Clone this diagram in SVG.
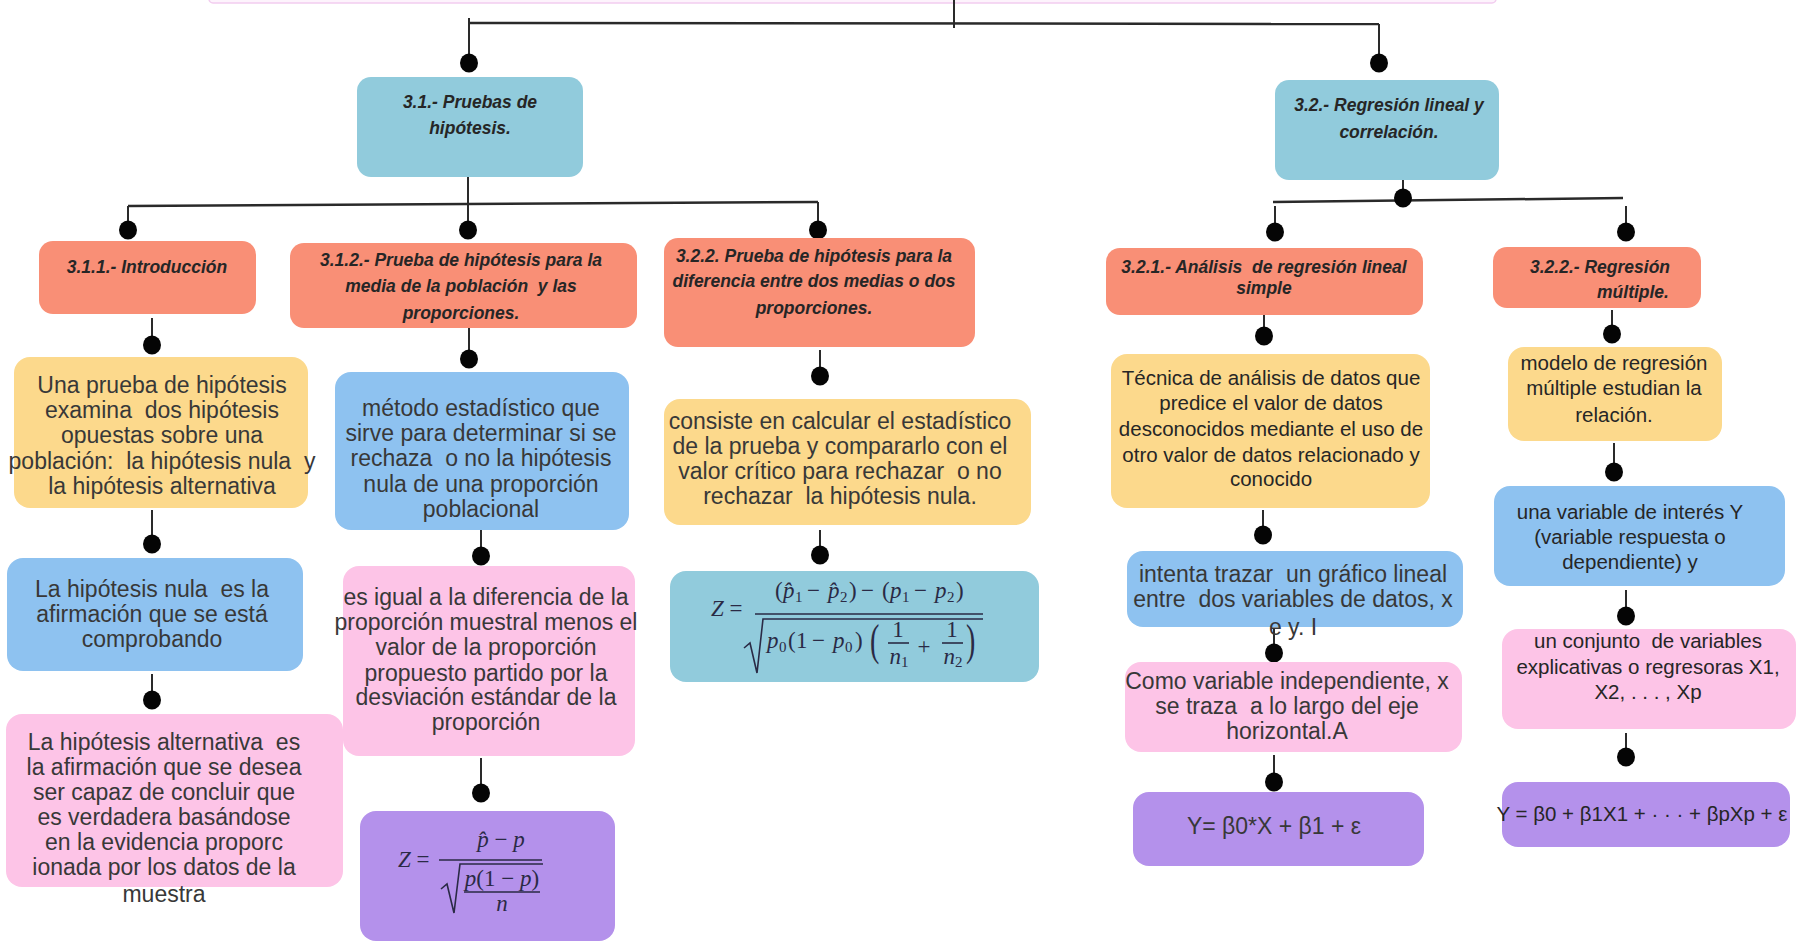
<svg xmlns="http://www.w3.org/2000/svg" width="1806" height="948" viewBox="0 0 1806 948">
<style>
  .bg { fill: #ffffff; }
  .teal { fill: #91CBDC; }
  .sal { fill: #F98F76; }
  .yel { fill: #FCD98C; }
  .blu { fill: #8EC2F0; }
  .pnk { fill: #FDC4E7; }
  .pur { fill: #B491EB; }
  .conn line, .conn polyline { stroke: #2a2a2a; stroke-width: 2; fill: none; }
  .conn .h { stroke-width: 2.5; }
  .conn ellipse { fill: #050505; }
  text { white-space: pre; }
  .hd { font-family: "Liberation Sans", Arial, sans-serif; font-weight: bold; font-style: italic; font-size: 17.5px; fill: #262626; text-anchor: middle; }
  .ar { font-family: "Liberation Sans", Arial, sans-serif; font-size: 23px; fill: #383838; text-anchor: middle; }
  .cb { font-family: "Liberation Sans", Arial, sans-serif; font-size: 20.5px; fill: #262626; text-anchor: middle; }
  .fm { font-family: "Liberation Serif", "Times New Roman", serif; font-size: 23px; fill: #2a2a45; }
  .fmc { text-anchor: middle; }
  .it { font-style: italic; }
  .sub { font-size: 15px; }
  .big { font-family: "Liberation Serif", serif; font-size: 28px; fill: #2a2a45; }
  .rule { stroke: #2a2a45; stroke-width: 1.6; fill: none; }
</style>
<rect class="bg" x="0" y="0" width="1806" height="948"/>

<g id="root">
  <rect x="209" y="-12" width="1287" height="15" rx="4" fill="#FDF3FC" stroke="#F2CDEF" stroke-width="1.5"/>
</g>

<g id="connectors" class="conn">
  <line x1="954" y1="0" x2="954" y2="28"/>
  <line class="h" x1="469" y1="23" x2="1379" y2="24"/>
  <line x1="469" y1="18" x2="469" y2="58"/>
  <ellipse cx="469" cy="63" rx="9" ry="9.5"/>
  <line x1="1379" y1="24" x2="1379" y2="58"/>
  <ellipse cx="1379" cy="63" rx="9" ry="9.5"/>

  <line x1="468" y1="177" x2="468" y2="225"/>
  <line class="h" x1="128" y1="206" x2="818" y2="202"/>
  <line x1="128" y1="206" x2="128" y2="225"/>
  <ellipse cx="128" cy="230" rx="9" ry="9.5"/>
  <ellipse cx="468" cy="230" rx="9" ry="9.5"/>
  <line x1="818" y1="202" x2="818" y2="225"/>
  <ellipse cx="818" cy="230" rx="9" ry="9.5"/>

  <line x1="1403" y1="180" x2="1403" y2="197"/>
  <line class="h" x1="1273" y1="202" x2="1623" y2="198"/>
  <ellipse cx="1403" cy="198" rx="9" ry="9.5"/>
  <line x1="1275" y1="206" x2="1275" y2="226"/>
  <ellipse cx="1275" cy="232" rx="9" ry="9.5"/>
  <line x1="1626" y1="206" x2="1626" y2="226"/>
  <ellipse cx="1626" cy="232" rx="9" ry="9.5"/>

  <line x1="152" y1="318" x2="152" y2="340"/>
  <ellipse cx="152" cy="345" rx="9" ry="9.5"/>
  <line x1="152" y1="510" x2="152" y2="538"/>
  <ellipse cx="152" cy="544" rx="9" ry="9.5"/>
  <line x1="152" y1="674" x2="152" y2="694"/>
  <ellipse cx="152" cy="700" rx="9" ry="9.5"/>

  <line x1="469" y1="328" x2="469" y2="354"/>
  <ellipse cx="469" cy="359" rx="9" ry="9.5"/>
  <line x1="481" y1="530" x2="481" y2="550"/>
  <ellipse cx="481" cy="556" rx="9" ry="9.5"/>
  <line x1="481" y1="758" x2="481" y2="787"/>
  <ellipse cx="481" cy="793" rx="9" ry="9.5"/>

  <line x1="820" y1="350" x2="820" y2="370"/>
  <ellipse cx="820" cy="376" rx="9" ry="9.5"/>
  <line x1="820" y1="530" x2="820" y2="549"/>
  <ellipse cx="820" cy="555" rx="9" ry="9.5"/>

  <line x1="1264" y1="315" x2="1264" y2="331"/>
  <ellipse cx="1264" cy="336" rx="9" ry="9.5"/>
  <line x1="1263" y1="510" x2="1263" y2="530"/>
  <ellipse cx="1263" cy="535" rx="9" ry="9.5"/>
  <line x1="1274" y1="628" x2="1274" y2="648"/>
  <ellipse cx="1274" cy="653" rx="9" ry="9.5"/>
  <line x1="1274" y1="755" x2="1274" y2="777"/>
  <ellipse cx="1274" cy="782" rx="9" ry="9.5"/>

  <line x1="1612" y1="310" x2="1612" y2="329"/>
  <ellipse cx="1612" cy="334" rx="9" ry="9.5"/>
  <line x1="1614" y1="443" x2="1614" y2="467"/>
  <ellipse cx="1614" cy="472" rx="9" ry="9.5"/>
  <line x1="1626" y1="590" x2="1626" y2="611"/>
  <ellipse cx="1626" cy="616" rx="9" ry="9.5"/>
  <line x1="1626" y1="733" x2="1626" y2="752"/>
  <ellipse cx="1626" cy="757" rx="9" ry="9.5"/>
</g>

<g id="n3_1">
  <rect class="teal" x="357" y="77" width="226" height="100" rx="14"/>
  <text class="hd" x="470" y="108">3.1.- Pruebas de</text>
  <text class="hd" x="470" y="134">hipótesis.</text>
</g>

<g id="n3_2">
  <rect class="teal" x="1275" y="80" width="224" height="100" rx="14"/>
  <text class="hd" x="1389" y="111">3.2.- Regresión lineal y</text>
  <text class="hd" x="1389" y="138">correlación.</text>
</g>

<g id="n3_1_1">
  <rect class="sal" x="39" y="241" width="217" height="73" rx="14"/>
  <text class="hd" x="147" y="273">3.1.1.- Introducción</text>
</g>

<g id="n3_1_2">
  <rect class="sal" x="290" y="243" width="347" height="85" rx="14"/>
  <text class="hd" x="461" y="266">3.1.2.- Prueba de hipótesis para la</text>
  <text class="hd" x="461" y="292">media de la población  y las</text>
  <text class="hd" x="461" y="319">proporciones.</text>
</g>

<g id="n3_2_2a">
  <rect class="sal" x="664" y="238" width="311" height="109" rx="14"/>
  <text class="hd" x="814" y="262">3.2.2. Prueba de hipótesis para la</text>
  <text class="hd" x="814" y="287">diferencia entre dos medias o dos</text>
  <text class="hd" x="814" y="314">proporciones.</text>
</g>

<g id="n3_2_1">
  <rect class="sal" x="1106" y="248" width="317" height="67" rx="14"/>
  <text class="hd" x="1264" y="273">3.2.1.- Análisis  de regresión lineal</text>
  <text class="hd" x="1264" y="294">simple</text>
</g>

<g id="n3_2_2b">
  <rect class="sal" x="1493" y="247" width="208" height="61" rx="14"/>
  <text class="hd" x="1600" y="273">3.2.2.- Regresión</text>
  <text class="hd" x="1633" y="298">múltiple.</text>
</g>

<g id="c1_def">
  <rect class="yel" x="14" y="357" width="294" height="151" rx="16"/>
  <text class="ar" x="162" y="393">Una prueba de hipótesis</text>
  <text class="ar" x="162" y="418">examina  dos hipótesis</text>
  <text class="ar" x="162" y="443">opuestas sobre una</text>
  <text class="ar" x="162" y="469">población:  la hipótesis nula  y</text>
  <text class="ar" x="162" y="494">la hipótesis alternativa</text>
</g>

<g id="c1_nula">
  <rect class="blu" x="7" y="558" width="296" height="113" rx="16"/>
  <text class="ar" x="152" y="597">La hipótesis nula  es la</text>
  <text class="ar" x="152" y="622">afirmación que se está</text>
  <text class="ar" x="152" y="647">comprobando</text>
</g>

<g id="c1_alt">
  <rect class="pnk" x="6" y="714" width="337" height="173" rx="16"/>
  <text class="ar" x="164" y="750">La hipótesis alternativa  es</text>
  <text class="ar" x="164" y="775">la afirmación que se desea</text>
  <text class="ar" x="164" y="800">ser capaz de concluir que</text>
  <text class="ar" x="164" y="825">es verdadera basándose</text>
  <text class="ar" x="164" y="850">en la evidencia proporc</text>
  <text class="ar" x="164" y="875">ionada por los datos de la</text>
  <text class="ar" x="164" y="902">muestra</text>
</g>

<g id="c2_metodo">
  <rect class="blu" x="335" y="372" width="294" height="158" rx="16"/>
  <text class="ar" x="481" y="416">método estadístico que</text>
  <text class="ar" x="481" y="441">sirve para determinar si se</text>
  <text class="ar" x="481" y="466">rechaza  o no la hipótesis</text>
  <text class="ar" x="481" y="492">nula de una proporción</text>
  <text class="ar" x="481" y="517">poblacional</text>
</g>

<g id="c2_igual">
  <rect class="pnk" x="343" y="566" width="292" height="190" rx="16"/>
  <text class="ar" x="486" y="605">es igual a la diferencia de la</text>
  <text class="ar" x="486" y="630">proporción muestral menos el</text>
  <text class="ar" x="486" y="655">valor de la proporción</text>
  <text class="ar" x="486" y="681">propuesto partido por la</text>
  <text class="ar" x="486" y="705">desviación estándar de la</text>
  <text class="ar" x="486" y="730">proporción</text>
</g>

<g id="c2_formula">
  <rect class="pur" x="360" y="811" width="255" height="130" rx="16"/>
  <text class="fm" x="398" y="867"><tspan class="it">Z</tspan> =</text>
  <text class="fm fmc" x="501" y="847"><tspan class="it">p̂</tspan> − <tspan class="it">p</tspan></text>
  <line class="rule" x1="439" y1="860" x2="542" y2="860"/>
  <polyline class="rule" points="441,889 447,884 454,913 460,864 543,864"/>
  <text class="fm fmc" x="502" y="886"><tspan class="it">p</tspan>(1 − <tspan class="it">p</tspan>)</text>
  <line class="rule" x1="464" y1="892" x2="540" y2="892"/>
  <text class="fm fmc it" x="502" y="911">n</text>
</g>

<g id="c3_consiste">
  <rect class="yel" x="664" y="399" width="367" height="126" rx="16"/>
  <text class="ar" x="840" y="429">consiste en calcular el estadístico</text>
  <text class="ar" x="840" y="454">de la prueba y compararlo con el</text>
  <text class="ar" x="840" y="479">valor crítico para rechazar  o no</text>
  <text class="ar" x="840" y="504">rechazar  la hipótesis nula.</text>
</g>

<g id="c3_formula">
  <rect class="teal" x="670" y="571" width="369" height="111" rx="16"/>
  <text class="fm" x="711" y="616"><tspan class="it">Z</tspan> =</text>
  <text class="fm" y="598"><tspan x="775">(</tspan><tspan class="it" x="783">p̂</tspan><tspan class="sub" x="795" dy="4">1</tspan><tspan x="807" dy="-4">−</tspan><tspan class="it" x="828">p̂</tspan><tspan class="sub" x="840" dy="4">2</tspan><tspan x="849" dy="-4">)</tspan><tspan x="861">−</tspan><tspan x="882">(</tspan><tspan class="it" x="890">p</tspan><tspan class="sub" x="902" dy="4">1</tspan><tspan x="914" dy="-4">−</tspan><tspan class="it" x="935">p</tspan><tspan class="sub" x="947" dy="4">2</tspan><tspan x="956" dy="-4">)</tspan></text>
  <line class="rule" x1="755" y1="614" x2="983" y2="614"/>
  <polyline class="rule" points="744,648 750,643 757,673 763,619 983,619"/>
  <text class="fm" y="648"><tspan class="it" x="767">p</tspan><tspan class="sub" x="779" dy="4">0</tspan><tspan x="788" dy="-4">(</tspan><tspan x="796">1</tspan><tspan x="812">−</tspan><tspan class="it" x="833">p</tspan><tspan class="sub" x="845" dy="4">0</tspan><tspan x="855" dy="-4">)</tspan></text>
  <text class="big" transform="translate(870,655) scale(1,1.55)">(</text>
  <text class="fm fmc" x="898" y="637">1</text>
  <line class="rule" x1="888" y1="643" x2="909" y2="643"/>
  <text class="fm fmc" x="899" y="664"><tspan class="it">n</tspan><tspan class="sub" dy="3">1</tspan></text>
  <text class="fm fmc" x="924" y="654">+</text>
  <text class="fm fmc" x="952" y="637">1</text>
  <line class="rule" x1="942" y1="643" x2="963" y2="643"/>
  <text class="fm fmc" x="953" y="664"><tspan class="it">n</tspan><tspan class="sub" dy="3">2</tspan></text>
  <text class="big" transform="translate(966,655) scale(1,1.55)">)</text>
</g>

<g id="c4_tecnica">
  <rect class="yel" x="1111" y="354" width="319" height="154" rx="16"/>
  <text class="cb" x="1271" y="385">Técnica de análisis de datos que</text>
  <text class="cb" x="1271" y="410">predice el valor de datos</text>
  <text class="cb" x="1271" y="436">desconocidos mediante el uso de</text>
  <text class="cb" x="1271" y="462">otro valor de datos relacionado y</text>
  <text class="cb" x="1271" y="486">conocido</text>
</g>

<g id="c4_intenta">
  <rect class="blu" x="1127" y="551" width="336" height="76" rx="16"/>
  <text class="ar" x="1293" y="582">intenta trazar  un gráfico lineal</text>
  <text class="ar" x="1293" y="607">entre  dos variables de datos, x</text>
  <text class="ar" x="1293" y="635">e y. I</text>
</g>

<g id="c4_como">
  <rect class="pnk" x="1125" y="662" width="337" height="90" rx="16"/>
  <text class="ar" x="1287" y="689">Como variable independiente, x</text>
  <text class="ar" x="1287" y="714">se traza  a lo largo del eje</text>
  <text class="ar" x="1287" y="739">horizontal.A</text>
</g>

<g id="c4_formula">
  <rect class="pur" x="1133" y="792" width="291" height="74" rx="16"/>
  <text class="ar" x="1274" y="834">Y= β0*X + β1 + ε</text>
</g>

<g id="c5_modelo">
  <rect class="yel" x="1508" y="347" width="214" height="94" rx="16"/>
  <text class="cb" x="1614" y="370">modelo de regresión</text>
  <text class="cb" x="1614" y="395">múltiple estudian la</text>
  <text class="cb" x="1614" y="422">relación.</text>
</g>

<g id="c5_variable">
  <rect class="blu" x="1494" y="486" width="291" height="100" rx="16"/>
  <text class="cb" x="1630" y="519">una variable de interés Y</text>
  <text class="cb" x="1630" y="544">(variable respuesta o</text>
  <text class="cb" x="1630" y="569">dependiente) y</text>
</g>

<g id="c5_conjunto">
  <rect class="pnk" x="1502" y="629" width="294" height="100" rx="16"/>
  <text class="cb" x="1648" y="648">un conjunto  de variables</text>
  <text class="cb" x="1648" y="674">explicativas o regresoras X1,</text>
  <text class="cb" x="1648" y="699">X2, . . . , Xp</text>
</g>

<g id="c5_formula">
  <rect class="pur" x="1502" y="782" width="288" height="65" rx="16"/>
  <text class="cb" x="1642" y="821">Y = β0 + β1X1 + · · · + βpXp + ε</text>
</g>
</svg>
